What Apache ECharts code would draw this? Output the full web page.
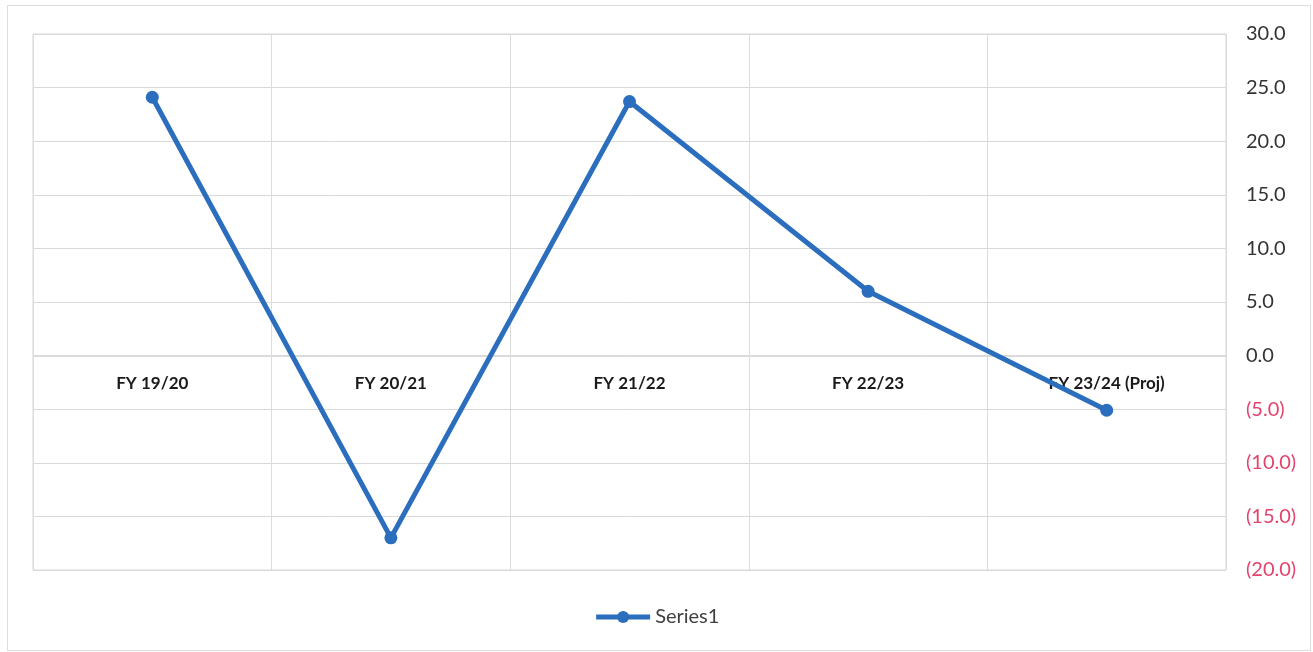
<!DOCTYPE html>
<html>
<head>
<meta charset="utf-8">
<script src="https://cdn.jsdelivr.net/npm/echarts@6/dist/echarts.min.js"></script>
<style>
  html, body { margin: 0; padding: 0; background: #fff; }
  #chart { width: 1313px; height: 652px; }
  #frame { position: absolute; left: 7px; top: 5px; width: 1302px; height: 644px; border: 1px solid #dedede; pointer-events: none; }
</style>
</head>
<body>
<div id="chart"></div>
<div id="frame"></div>
<script>
const categories = ["FY 19/20", "FY 20/21", "FY 21/22", "FY 22/23", "FY 23/24 (Proj)"];
const series1 = [24.1, -17.0, 23.7, 6.0, -5.1];

const fmt = v => (v < 0 ? "(" + Math.abs(v).toFixed(1) + ")" : v.toFixed(1));

// plot height 536px for 50 units; zero sits 20 units above the bottom
const plotTop = 34;
const plotBottom = 82;
const plotH = 652 - plotTop - plotBottom;
const zeroOffset = -Math.round((plotH * 20) / 50);

let myChart = echarts.init(document.getElementById("chart"));
myChart.setOption({
    animation: false,
    grid: {
        left: 33,
        right: 87,
        top: plotTop,
        bottom: plotBottom,
        show: true,
        borderColor: "#d9d9d9",
        borderWidth: 1
    },
    legend: {
        bottom: 20,
        left: "center",
        itemWidth: 54,
        itemHeight: 15,
        itemGap: 4,
        lineStyle: { width: 5 },
        textStyle: { fontFamily: "Lato", fontSize: 20, color: "#404040" },
        data: ["Series1"]
    },
    xAxis: {
        type: "category",
        data: categories,
        boundaryGap: true,
        offset: zeroOffset,
        axisLine: { onZero: false, lineStyle: { color: "#dcdcdc", width: 1 } },
        axisTick: { show: false },
        splitLine: { show: true, lineStyle: { color: "#dcdcdc", width: 1 } },
        axisLabel: {
            margin: 19,
            fontFamily: "Lato",
            fontWeight: "bold",
            fontSize: 17,
            color: "#1a1a1a",
            interval: 0
        }
    },
    yAxis: {
        type: "value",
        position: "right",
        min: -20,
        max: 30,
        interval: 5,
        axisLine: { show: false },
        axisTick: { show: false },
        splitLine: { lineStyle: { color: "#d9d9d9", width: 1 } },
        axisLabel: {
            margin: 20,
            fontFamily: "Lato",
            fontSize: 20,
            padding: [4, 0, 0, 0],
            formatter: fmt,
            color: v => (v < 0 ? "#e3436c" : "#333333")
        }
    },
    series: [
        {
            name: "Series1",
            type: "line",
            data: series1,
            symbol: "circle",
            symbolSize: 13,
            lineStyle: { color: "#2a6ebd", width: 5 },
            itemStyle: { color: "#2a6ebd" }
        }
    ]
});
</script>
</body>
</html>
